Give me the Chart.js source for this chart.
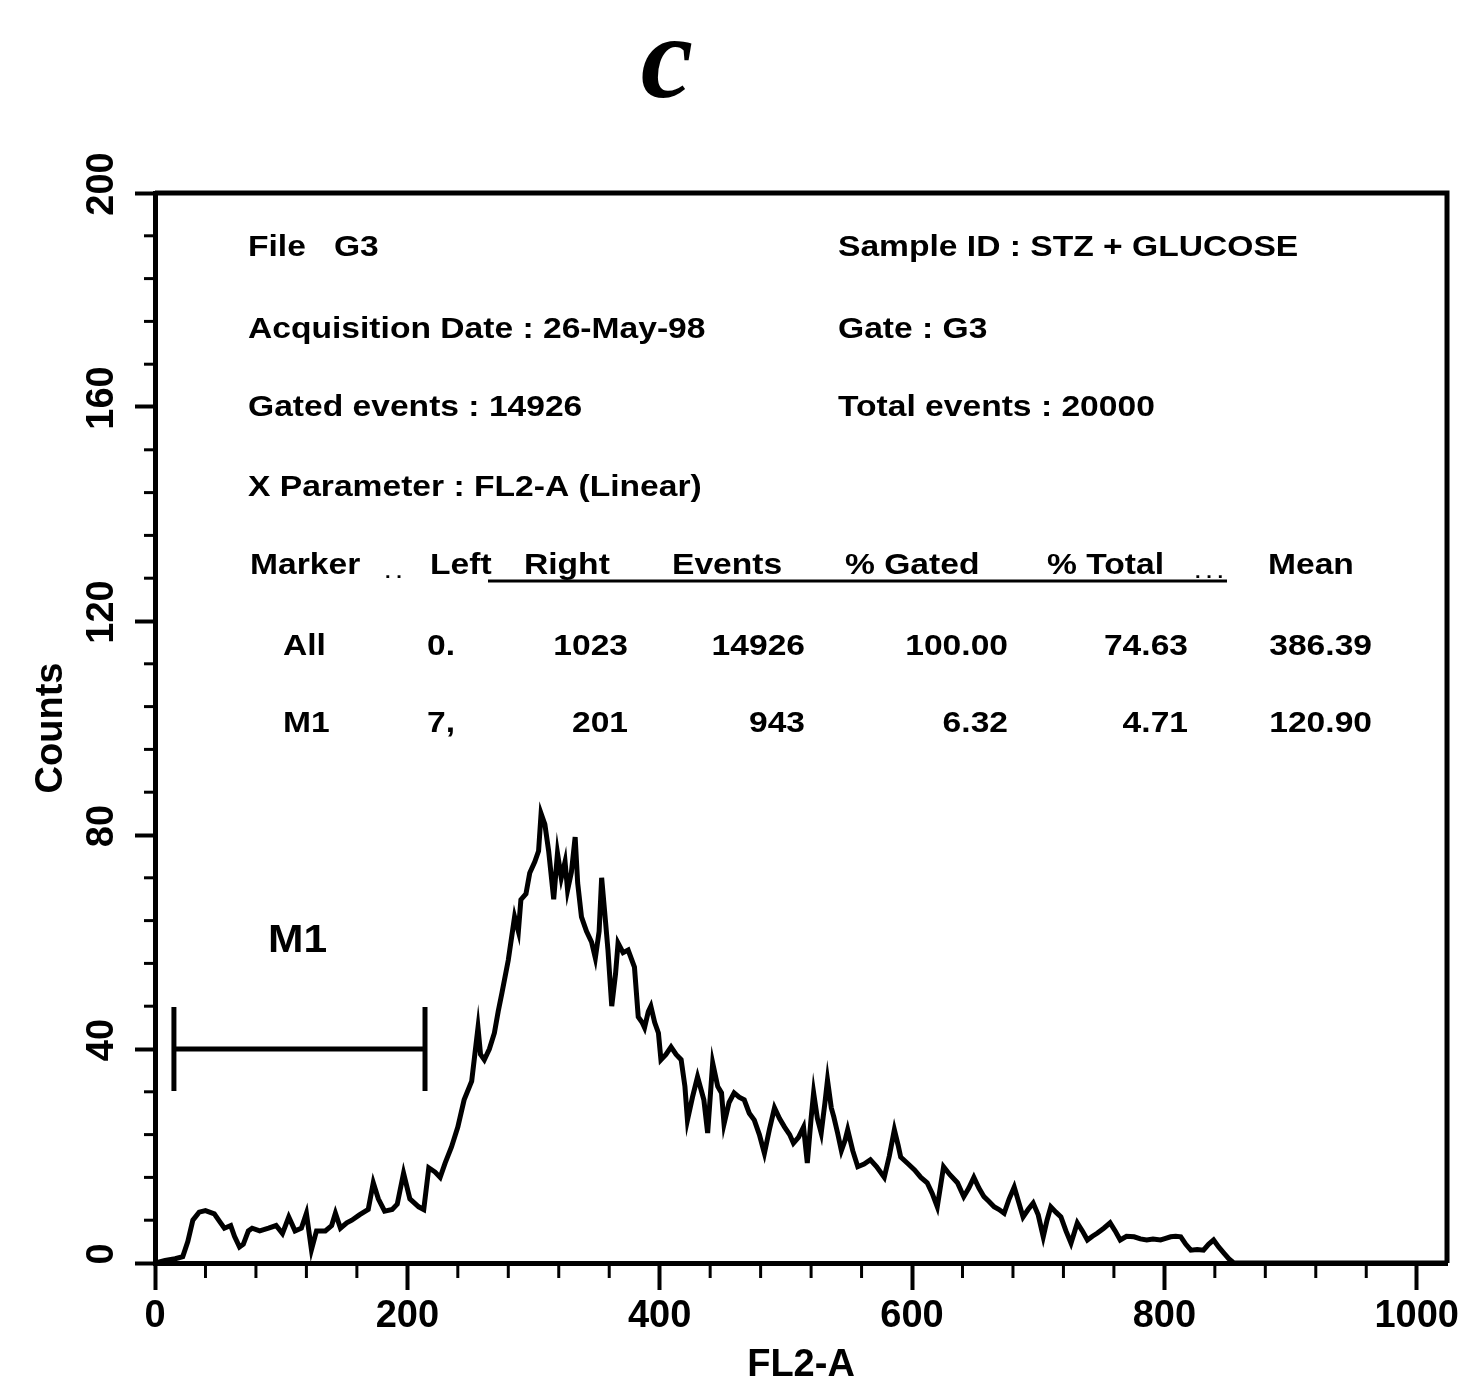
<!DOCTYPE html>
<html>
<head>
<meta charset="utf-8">
<script src="https://cdn.jsdelivr.net/npm/chart.js@4/dist/chart.umd.min.js"></script>
<style>
  html, body { margin: 0; padding: 0; background: #fff; }
  #wrap { width: 1462px; height: 1378px; }
</style>
</head>
<body>
<div id="wrap"><canvas id="myChart" width="1462" height="1378"></canvas></div>
<script>
// FL2-A histogram (channel -> counts)
const channels = [0, 8, 16, 22, 26, 30, 35, 40, 47, 52, 55, 60, 63, 67, 70, 74, 77, 83, 90, 96,
  101, 106, 111, 116, 120, 124, 128, 135, 140, 143, 147, 152, 156, 162, 169, 173, 177, 182, 188, 192,
  197, 202, 209, 213, 217, 222, 226, 230, 235, 240, 245, 251, 256, 258, 261, 265, 269, 272, 275, 280,
  285, 288, 290, 294, 297, 301, 304, 306, 309, 312, 316, 319, 322, 325, 327, 330, 333, 335, 338, 342,
  346, 349, 352, 354, 357, 359, 362, 365, 367, 371, 375, 380, 383, 386, 388, 391, 393, 396, 399, 401,
  405, 409, 413, 417, 420, 422, 426, 430, 435, 438, 442, 446, 449, 451, 455, 459, 463, 467, 471, 475,
  479, 483, 487, 491, 495, 499, 503, 506, 510, 514, 517, 520, 522, 525, 528, 531, 533, 536, 538, 541,
  544, 547, 549, 553, 557, 562, 567, 572, 578, 582, 586, 589, 591, 597, 602, 607, 612, 616, 620, 625,
  630, 636, 641, 645, 649, 653, 657, 661, 665, 669, 673, 677, 681, 685, 688, 692, 696, 700, 704, 707,
  710, 714, 718, 722, 726, 729, 731, 735, 739, 743, 747, 752, 757, 761, 765, 770, 776, 781, 786, 791,
  797, 801, 805, 809, 813, 817, 821, 826, 831, 835, 839, 843, 847, 851, 855, 900, 950, 1000, 1023];
const counts = [0, 0.5, 0.8, 1.2, 4, 8, 9.5, 9.8, 9.2, 7.5, 6.5, 7, 5, 3, 3.5, 6, 6.5, 6, 6.5, 7,
  5.5, 8.6, 6, 6.5, 9.3, 2.5, 6, 6, 7, 9.3, 6.5, 7.5, 8, 9, 10, 15, 12, 9.7, 10, 11,
  16.8, 12, 10.5, 10, 17.8, 17, 16, 18.7, 21.7, 25.4, 30.5, 34, 44, 39, 38, 40, 43, 47, 50.5, 56.6,
  64.7, 62, 67.9, 69, 72.9, 75, 77, 84, 82, 77, 68, 76.6, 72, 75, 69.7, 73, 79.6, 71, 64.7, 62,
  60, 57, 62, 72, 64, 58.5, 48, 54, 59.8, 58, 58.5, 55.3, 46, 45, 44, 47, 48, 45, 43, 38,
  39, 40.4, 39, 38, 33, 26.7, 31, 34.8, 30.5, 24.3, 37.4, 33, 31.8, 26, 30, 31.8, 31, 30.5, 28, 26.7,
  24, 20.5, 25, 29, 27, 25.4, 24, 22.4, 23.5, 25.4, 18.7, 27, 31.8, 27, 24.3, 30, 34.2, 29, 27.3, 24.3,
  21, 23, 24.9, 21, 18, 18.5, 19.3, 18, 16, 20, 24.9, 22, 19.8, 18.5, 17.4, 16, 15, 13, 10.5, 18,
  16.5, 15, 12.4, 14, 16, 14, 12.4, 11.5, 10.5, 10, 9.3, 12, 14.2, 11, 8.6, 10, 11.2, 9, 4.9, 8,
  10.5, 9.5, 8.6, 6, 3.7, 6, 7.5, 6, 4.3, 5, 5.6, 6.5, 7.5, 6, 4.3, 5, 4.9, 4.5, 4.3, 4.5,
  4.3, 4.6, 4.9, 5, 4.9, 3.5, 2.4, 2.5, 2.4, 3.5, 4.3, 3, 1.9, 0.8, 0, 0, 0, 0, 0];

// M1 marker as drawn
const markerRange = [15, 214];
const markerLevel = 40;
const markerLabelAt = [113, 60];

// axis ticks
const xTickValues = [0, 200, 400, 600, 800, 1000];
const yTickValues = [0, 40, 80, 120, 160, 200];
const X_MINOR = 40, Y_MINOR = 8;

// header text
const infoLeft = ['File   G3', 'Acquisition Date : 26-May-98', 'Gated events : 14926', 'X Parameter : FL2-A (Linear)'];
const infoRight = ['Sample ID : STZ + GLUCOSE', 'Gate : G3', 'Total events : 20000'];
const tableHeader = ['Marker', 'Left', 'Right', 'Events', '% Gated', '% Total', 'Mean'];
const tableRows = [
  ['All', '0.', '1023', '14926', '100.00', '74.63', '386.39'],
  ['M1', '7,', '201', '943', '6.32', '4.71', '120.90']
];

const FONT = '"Liberation Sans", Arial, sans-serif';

function stretchText(ctx, text, x, y, align) {
  // the scanned text is a bit wider than Arial
  const sx = 1.12;
  ctx.save();
  ctx.translate(x, y);
  ctx.scale(sx, 1);
  ctx.textAlign = align || 'left';
  ctx.fillText(text, 0, 0);
  ctx.restore();
}

const extras = {
  id: 'extras',
  afterDraw(chart) {
    const {ctx, chartArea: a, scales: {x, y}} = chart;
    ctx.save();
    ctx.strokeStyle = '#000';
    ctx.fillStyle = '#000';

    // frame top and right
    ctx.lineWidth = 5;
    ctx.beginPath();
    ctx.moveTo(a.left, a.top);
    ctx.lineTo(a.right, a.top);
    ctx.lineTo(a.right, a.bottom);
    ctx.stroke();

    // minor ticks
    ctx.lineWidth = 3;
    for (let v = x.min; v <= x.max; v += X_MINOR) {
      if (xTickValues.includes(v)) continue;
      const px = x.getPixelForValue(v);
      ctx.beginPath(); ctx.moveTo(px, a.bottom); ctx.lineTo(px, a.bottom + 15); ctx.stroke();
    }
    for (let v = y.min; v <= y.max; v += Y_MINOR) {
      if (yTickValues.includes(v)) continue;
      const py = y.getPixelForValue(v);
      ctx.beginPath(); ctx.moveTo(a.left, py); ctx.lineTo(a.left - 11, py); ctx.stroke();
    }

    // panel letter
    ctx.font = 'italic bold 118px "Liberation Serif", "Times New Roman", serif';
    ctx.textAlign = 'center';
    ctx.textBaseline = 'alphabetic';
    ctx.fillText('c', 667, 97);

    // info block
    ctx.font = 'bold 30px ' + FONT;
    ctx.textBaseline = 'middle';
    const rowY = [55, 137, 215, 295];
    infoLeft.forEach((t, i) => stretchText(ctx, t, a.left + 93, a.top + rowY[i]));
    infoRight.forEach((t, i) => stretchText(ctx, t, a.left + 683, a.top + rowY[i]));

    // stats table
    const hx = [95, 275, 369, 517, 690, 892, 1113];
    tableHeader.forEach((t, i) => stretchText(ctx, t, a.left + hx[i], a.top + 373));
    ctx.font = 'bold 18px ' + FONT;
    stretchText(ctx, '. .', a.left + 230, a.top + 380);
    stretchText(ctx, '. . .', a.left + 1040, a.top + 380);
    ctx.lineWidth = 3;
    ctx.beginPath();
    ctx.moveTo(a.left + 333, a.top + 388);
    ctx.lineTo(a.left + 1072, a.top + 388);
    ctx.stroke();
    ctx.font = 'bold 30px ' + FONT;
    const cx = [128, 300, 473, 650, 853, 1033, 1217];
    tableRows.forEach((row, r) => {
      row.forEach((t, i) => {
        stretchText(ctx, t, a.left + cx[i], a.top + 454 + r * 77, i === 0 ? 'left' : 'right');
      });
    });

    // M1 label
    ctx.font = 'bold 38px ' + FONT;
    stretchText(ctx, 'M1', x.getPixelForValue(markerLabelAt[0]), y.getPixelForValue(markerLabelAt[1]), 'center');
    ctx.restore();
  }
};

window.onload = function () {
  const ctx = document.getElementById('myChart');
  const histData = channels.map((c, i) => ({x: c, y: counts[i]}));
  const markerData = markerRange.map(c => ({x: c, y: markerLevel}));

  window.myChart = new Chart(ctx, {
    type: 'line',
    data: {
      datasets: [
        {
          label: 'FL2-A', data: histData,
          borderColor: '#000', borderWidth: 5, pointRadius: 0, tension: 0, fill: false
        },
        {
          label: 'M1', data: markerData,
          borderColor: '#000', borderWidth: 5, tension: 0, fill: false,
          pointStyle: 'line', pointRotation: 90, pointRadius: 42,
          pointBorderWidth: 5, pointBorderColor: '#000', pointBackgroundColor: '#000'
        }
      ]
    },
    options: {
      responsive: false,
      animation: false,
      layout: { autoPadding: false, padding: { left: 0, top: 193, right: 15, bottom: 0 } },
      plugins: { legend: { display: false }, tooltip: { enabled: false } },
      scales: {
        x: {
          type: 'linear', min: 0, max: 1024,
          afterFit: (scale) => { scale.height = 115; scale.paddingLeft = 0; scale.paddingRight = 0; },
          afterBuildTicks: (scale) => { scale.ticks = xTickValues.map(v => ({value: v})); },
          border: { display: true, width: 5, color: '#000' },
          grid: { drawOnChartArea: false, drawTicks: true, tickLength: 27, tickWidth: 4, tickColor: '#000' },
          ticks: {
            autoSkip: false, maxRotation: 0,
            padding: 4, color: '#000', font: { family: FONT, size: 38, weight: 'bold' },
            callback: (v) => String(v)
          },
          title: {
            display: true, text: 'FL2-A', color: '#000',
            font: { family: FONT, size: 38, weight: 'bold' },
            padding: { top: 0, bottom: -10 }
          }
        },
        y: {
          min: 0, max: 200,
          afterFit: (scale) => { scale.width = 155; scale.paddingTop = 0; scale.paddingBottom = 0; },
          afterBuildTicks: (scale) => { scale.ticks = yTickValues.map(v => ({value: v})); },
          border: { display: true, width: 5, color: '#000' },
          grid: { drawOnChartArea: false, drawTicks: true, tickLength: 20, tickWidth: 4, tickColor: '#000' },
          ticks: {
            minRotation: 90, maxRotation: 90, crossAlign: 'center',
            padding: 1, labelOffset: -9, color: '#000',
            font: { family: FONT, size: 38, weight: 'bold' },
            callback: (v) => String(v)
          },
          title: {
            display: true, text: 'Counts', color: '#000',
            font: { family: FONT, size: 38, weight: 'bold' },
            padding: { top: 29, bottom: 0 }
          }
        }
      }
    },
    plugins: [extras]
  });
};
</script>
</body>
</html>
